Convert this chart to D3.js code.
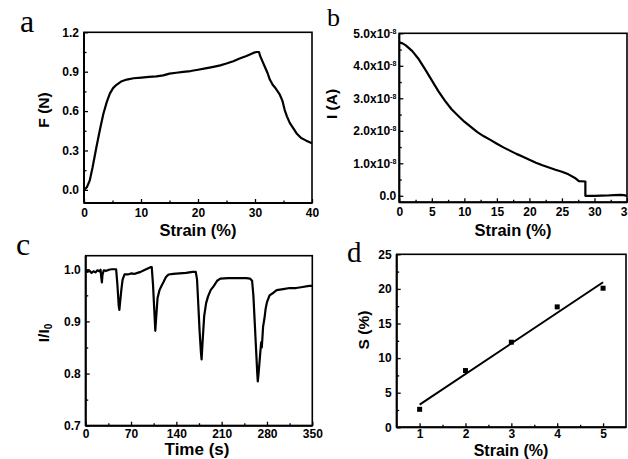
<!DOCTYPE html>
<html><head><meta charset="utf-8">
<script src="https://cdn.jsdelivr.net/npm/d3@7"></script>
<style>
html,body{margin:0;padding:0;background:#fff;}
svg{display:block;}
text{font-family:"Liberation Sans",Arial,sans-serif;font-weight:bold;fill:#000;}
.letter{font-family:"Liberation Serif","Times New Roman",serif;font-weight:normal;}
</style></head>
<body>
<svg id="chart" width="628" height="459"></svg>
<script>
// ---------- DATA ----------
// Panel a: force vs strain
const aStrain = [0,0.5,1,1.5,2.2,2.8,3.4,4,4.55,5.1,5.7,6.5,7.5,8.7,10.1,11.4,12.7,13.9,15,16.2,17.4,18.7,20,21.3,22.7,23.9,25,26.2,27.3,28.5,29.7,30.3,30.7,30.9,31.2,31.7,32.2,32.6,33.1,33.5,34.3,34.8,35.2,35.6,36.1,36.7,37.3,38.1,39,40];
const aForce  = [0,0.02,0.07,0.17,0.33,0.46,0.58,0.67,0.735,0.775,0.8,0.825,0.84,0.85,0.855,0.86,0.865,0.872,0.885,0.892,0.898,0.905,0.915,0.925,0.937,0.948,0.962,0.98,1.0,1.02,1.043,1.05,1.05,1.02,0.99,0.94,0.89,0.84,0.8,0.78,0.73,0.68,0.61,0.56,0.51,0.47,0.43,0.395,0.375,0.355];
// Panel b: current vs strain
const bStrain = [0,0.5,1,2,3,4,5,6,7,8,9,10,11,12,13,14,15,16,17,18,19,20,21,22,23,24,25,26,27,27.6,28.6,28.6,30,31,32,33,34,34.5,35];
const bCurrent = [4.72e-8,4.69e-8,4.63e-8,4.45e-8,4.2e-8,3.88e-8,3.55e-8,3.22e-8,2.93e-8,2.67e-8,2.47e-8,2.28e-8,2.12e-8,1.96e-8,1.83e-8,1.72e-8,1.6e-8,1.49e-8,1.39e-8,1.29e-8,1.2e-8,1.11e-8,1.02e-8,0.94e-8,0.87e-8,0.8e-8,0.74e-8,0.66e-8,0.55e-8,0.45e-8,0.44e-8,0.0,0.0,0.005e-8,0.01e-8,0.02e-8,0.03e-8,0.02e-8,0.0];
// Panel c: I/I0 vs time
const cTime = [0,3,6,9,12,15,18,21,23,24,25,26,28,32,36,40,44,47,49,51,52,53,55,57,60,65,70,75,80,85,90,95,100,102,104,106,107.5,109,111,114,117,120,124,128,135,145,155,165,170,172,174,176,178,179,180.5,183,186,189,193,198,203,208,220,235,248,254,257,259,261,263,265,265.8,267,269,271,272,274,276,278,280,284,290,295,305,315,325,335,345,350];
const cRatio = [1.0,0.995,0.997,0.993,0.996,0.994,0.998,0.996,0.999,0.985,0.975,0.99,0.998,0.997,0.999,1.0,1.0,1.0,0.97,0.93,0.922,0.935,0.96,0.98,0.99,0.99,0.992,0.991,0.993,0.995,0.998,1.001,1.004,1.004,0.97,0.92,0.882,0.91,0.945,0.96,0.968,0.975,0.985,0.99,0.991,0.992,0.993,0.995,0.995,0.98,0.93,0.88,0.84,0.827,0.86,0.91,0.935,0.948,0.96,0.968,0.978,0.982,0.983,0.983,0.983,0.982,0.978,0.95,0.9,0.85,0.8,0.785,0.8,0.83,0.86,0.85,0.89,0.905,0.925,0.937,0.95,0.955,0.96,0.962,0.964,0.964,0.966,0.968,0.968];
// Panel d: sensitivity vs strain
const dStrain = [1,2,3,4,5];
const dS = [2.6,8.2,12.3,17.4,20.1];

// tick values
const aXTicks=[0,10,20,30,40], aYTicks=[0,0.3,0.6,0.9,1.2];
const bXTicks=[0,5,10,15,20,25,30,35], bYTicks=[0,1e-8,2e-8,3e-8,4e-8,5e-8];
const cXTicks=[0,70,140,210,280,350], cYTicks=[0.7,0.8,0.9,1.0];
const dXTicks=[1,2,3,4,5], dYTicks=[0,5,10,15,20,25];

const svg = d3.select("#chart");

function panel(o){
  const x = d3.scaleLinear().domain(o.xd).range([o.l,o.r]);
  const y = d3.scaleLinear().domain(o.yd).range([o.b,o.t]);
  const g = svg.append("g");
  const minorX = [], minorY=[];
  for(let i=0;i<o.xt.length-1;i++) minorX.push((o.xt[i]+o.xt[i+1])/2);
  for(let i=0;i<o.yt.length-1;i++) minorY.push((o.yt[i]+o.yt[i+1])/2);
  if(o.yd[0]<o.yt[0]-(o.yt[1]-o.yt[0])/2+1e-12) minorY.push(o.yt[0]-(o.yt[1]-o.yt[0])/2);
  const gxm = g.append("g").attr("transform",`translate(0,${o.b})`)
    .call(d3.axisBottom(x).tickValues(minorX.filter(v=>v>o.xd[0]&&v<o.xd[1])).tickFormat("").tickSizeInner(-2.5).tickSizeOuter(0));
  const gym = g.append("g").attr("transform",`translate(${o.l},0)`)
    .call(d3.axisLeft(y).tickValues(minorY.filter(v=>v>o.yd[0]&&v<o.yd[1])).tickFormat("").tickSizeInner(-2.5).tickSizeOuter(0));
  const gx = g.append("g").attr("transform",`translate(0,${o.b})`)
    .call(d3.axisBottom(x).tickValues(o.xt).tickFormat(o.xf).tickSizeInner(-4).tickSizeOuter(0).tickPadding(o.xpad));
  const gy = g.append("g").attr("transform",`translate(${o.l},0)`)
    .call(d3.axisLeft(y).tickValues(o.yt).tickFormat(o.yf).tickSizeInner(-4).tickSizeOuter(0).tickPadding(5));
  [gxm,gym,gx,gy].forEach(s=>{s.select(".domain").remove(); s.selectAll("line").attr("stroke","#000").attr("stroke-width",1.3);});
  g.selectAll(".tick text").attr("font-size",12).attr("font-family",null).attr("font-weight","bold");
  g.append("rect").attr("x",o.l).attr("y",o.t).attr("width",o.r-o.l).attr("height",o.b-o.t)
    .attr("fill","none").attr("stroke","#000").attr("stroke-width",1.6);
  g.append("line").attr("x1",o.l).attr("x2",o.r).attr("y1",o.b).attr("y2",o.b).attr("stroke","#000").attr("stroke-width",2);
  g.append("line").attr("x1",o.l).attr("x2",o.l).attr("y1",o.t).attr("y2",o.b).attr("stroke","#000").attr("stroke-width",2);
  return {g,x,y,gy};
}

const fmt1 = d3.format(".1f");
const line = (x,y)=>d3.line().x(d=>x(d[0])).y(d=>y(d[1]));

// Panel a
const A = panel({l:84,r:312,t:32.3,b:203,xd:[0,40],yd:[-0.1,1.2],xt:aXTicks,yt:aYTicks,xf:d3.format("d"),yf:fmt1,xpad:5.5});
A.g.append("path").datum(d3.zip(aStrain,aForce)).attr("d",line(A.x,A.y)).attr("fill","none").attr("stroke","#000").attr("stroke-width",2.2).attr("stroke-linejoin","round");

// Panel b
const B = panel({l:399.3,r:627,t:33.3,b:202.3,xd:[0,35],yd:[-0.2e-8,5e-8],xt:bXTicks,yt:bYTicks,xf:d3.format("d"),yf:d=>"",xpad:5.5});
B.gy.selectAll(".tick text").each(function(d){
  const t=d3.select(this);
  if(d===0){t.text("0.0");}
  else{
    t.text(fmt1(d/1e-8)+"x10");
    t.append("tspan").attr("dy","-0.55em").attr("font-size",7).text("-8");
  }
});
B.gy.selectAll(".tick text").attr("x",-3);
B.g.append("path").datum(d3.zip(bStrain,bCurrent)).attr("d",line(B.x,B.y)).attr("fill","none").attr("stroke","#000").attr("stroke-width",2.2).attr("stroke-linejoin","round");

// Panel c
const C = panel({l:85.7,r:312.3,t:255.7,b:425.7,xd:[0,350],yd:[0.7,1.026],xt:cXTicks,yt:cYTicks,xf:d3.format("d"),yf:fmt1,xpad:3.5});
C.g.append("path").datum(d3.zip(cTime,cRatio)).attr("d",line(C.x,C.y)).attr("fill","none").attr("stroke","#000").attr("stroke-width",2.2).attr("stroke-linejoin","round");

// Panel d
const D = panel({l:396.7,r:626,t:254.3,b:427.3,xd:[0.5,5.5],yd:[0,25],xt:dXTicks,yt:dYTicks,xf:d3.format("d"),yf:d3.format("d"),xpad:2.5});
const mx=d3.mean(dStrain), my=d3.mean(dS);
const slope=d3.sum(dStrain,(v,i)=>(v-mx)*(dS[i]-my))/d3.sum(dStrain,v=>(v-mx)*(v-mx));
const icpt=my-slope*mx;
const ext=d3.extent(dStrain);
D.g.append("line").attr("x1",D.x(ext[0])).attr("x2",D.x(ext[1])).attr("y1",D.y(icpt+slope*ext[0])).attr("y2",D.y(icpt+slope*ext[1]))
  .attr("stroke","#000").attr("stroke-width",2);
D.g.selectAll("rect.pt").data(d3.zip(dStrain,dS)).join("rect").attr("class","pt")
  .attr("x",d=>D.x(d[0])-2.5).attr("y",d=>D.y(d[1])-2.5).attr("width",5).attr("height",5).attr("fill","#000");

// Axis titles
function title(txt,x,y,size,rot){
  const t=svg.append("text").attr("text-anchor","middle").attr("font-size",size)
    .attr("transform",`translate(${x},${y})`+(rot?" rotate(-90)":""));
  return t.text(txt);
}
title("Strain (%)",198,235.5,16.5,false);
title("Strain (%)",513,235.5,16.5,false);
title("Time (s)",197,455,17,false);
title("Strain (%)",511,456,16,false);
title("F (N)",48.5,110,15.5,true);
title("I (A)",337,104,15.5,true);
title("S (%)",368.5,330,15.5,true);
const tI = svg.append("text").attr("text-anchor","middle").attr("font-size",15.5)
  .attr("transform","translate(48.5,333) rotate(-90)");
tI.append("tspan").text("I/I");
tI.append("tspan").attr("font-size",10).attr("dy","0.3em").text("0");

// Panel letters
svg.append("text").attr("class","letter").attr("x",20).attr("y",31.5).attr("font-size",32).text("a");
svg.append("text").attr("class","letter").attr("x",327).attr("y",26).attr("font-size",26).text("b");
svg.append("text").attr("class","letter").attr("x",16).attr("y",255).attr("font-size",32).text("c");
svg.append("text").attr("class","letter").attr("x",347).attr("y",261.5).attr("font-size",29).text("d");
</script>
</body></html>
